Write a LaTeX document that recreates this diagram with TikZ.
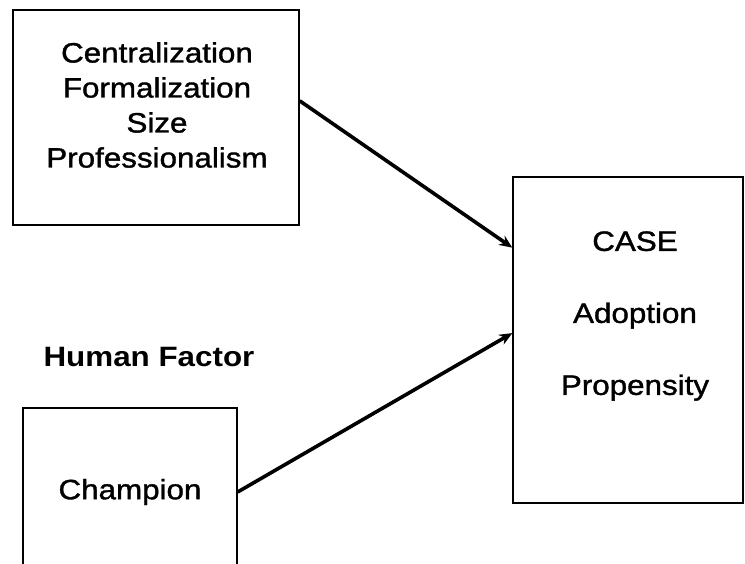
\documentclass[tikz,border=0pt]{standalone}
\usepackage{fontspec}
\setmainfont{Liberation Sans}[FakeStretch=1.12,UprightFeatures={FakeBold=1.3}]
\usetikzlibrary{arrows.meta,calc}
\begin{document}
\begin{tikzpicture}[x=1pt,y=1pt,
  boxstyle/.style={draw=black,line width=1.4pt,inner sep=0pt},
  txt/.style={inner sep=0pt,align=center,font=\fontsize{28}{35}\selectfont},
  conn/.style={line width=3.6pt,-{Stealth[length=13pt,width=11pt]}}]
\clip (0,0) rectangle (745,564);
\fill[white] (0,0) rectangle (745,564);
% top-left box
\node[boxstyle,minimum width=286pt,minimum height=215pt] (org) at (156,446.5) {};
\node[txt] (orgtxt) at (157,459) {Centralization\\Formalization\\Size\\Professionalism};
% right box
\node[boxstyle,minimum width=230pt,minimum height=326pt] (case) at (628,224) {};
\node[txt,font=\fontsize{28}{72}\selectfont] (casetxt) at (635,248) {CASE\\Adoption\\Propensity};
% heading
\node[inner sep=0pt,font=\fontsize{28}{34}\selectfont\bfseries] (hf) at (149,207) {Human Factor};
% bottom-left box
\node[boxstyle,minimum width=214pt,minimum height=200pt] (hum) at (130,56) {};
\node[txt] (champ) at (130,72) {Champion};
% connectors
\draw[conn] ($(org.north east)!0.423!(org.south east)$) -- ($(case.north west)!0.218!(case.south west)$);
\draw[conn] (hum.east |- champ) -- ($(case.north west)!0.479!(case.south west)$);
\end{tikzpicture}
\end{document}
